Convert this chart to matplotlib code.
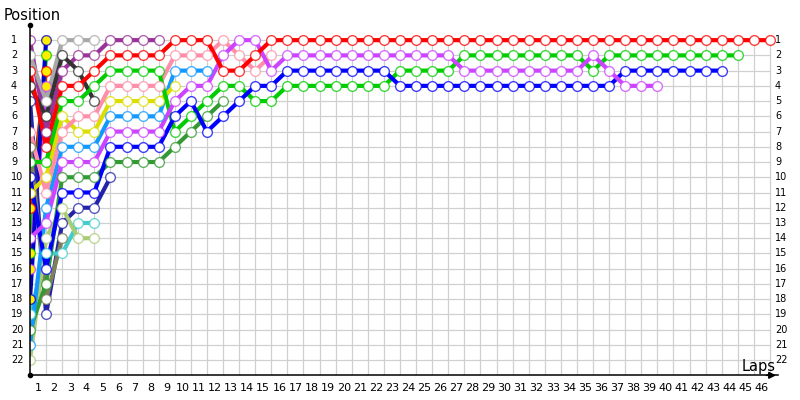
import matplotlib.pyplot as plt
from matplotlib.colors import to_rgba
from matplotlib.transforms import blended_transform_factory

# position of each driver at the end of every lap (index 0 = grid)
purple = [1, 7, 3, 2, 2, 1, 1, 1, 1]
gray = [2, 5, 1, 1, 1]
red = [3, 8, 4, 4, 3, 2, 2, 2, 2, 1, 1, 1, 3, 3, 2, 1, 1, 1, 1, 1, 1, 1, 1, 1,
       1, 1, 1, 1, 1, 1, 1, 1, 1, 1, 1, 1, 1, 1, 1, 1, 1, 1, 1, 1, 1, 1, 1]
dark = [4, 6, 2, 3, 5]
navy = [5, 19, 13, 12, 12, 10]
pink = [7, 11, 7, 6, 6, 4, 4, 4, 4, 2, 2, 2, 1, 2, 3, 2]
olive = [8, 18, 14]
green = [9, 9, 5, 5, 4, 3, 3, 3, 3, 7, 6, 5, 4, 4, 5, 5, 4, 4, 4, 4, 4, 4, 4,
         3, 3, 3, 3, 2, 2, 2, 2, 2, 2, 2, 2, 3, 2, 2, 2, 2, 2, 2, 2, 2, 2]
blue = [10, 16, 11, 11, 11, 8, 8, 8, 8, 6, 5, 7, 6, 5, 4, 4, 3, 3, 3, 3, 3, 3,
        3, 4, 4, 4, 4, 4, 4, 4, 4, 4, 4, 4, 4, 4, 4, 3, 3, 3, 3, 3, 3, 3]
yellow = [11, 10, 6, 7, 7, 5, 5, 5, 5, 4]
violet = [14, 13, 9, 9, 9, 7, 7, 7, 7, 5, 4, 4, 2, 1, 1, 3, 2, 2, 2, 2, 2, 2,
          2, 2, 2, 2, 2, 3, 3, 3, 3, 3, 3, 3, 3, 2, 3, 4, 4, 4]
cyan = [19, 15, 15, 13, 13]
dgreen = [20, 17, 10, 10, 10, 9, 9, 9, 9, 8, 7, 6, 5]
lblue = [21, 12, 8, 8, 8, 6, 6, 6, 6, 3, 3, 3]
lolive = [22, 14, 12, 14, 14]
# drivers out after the first lap (drawn with yellow markers)
out_red = [12, 3]
out_green = [15, 2]
out_violet = [16, 4]
out_blue = [18, 1]

n_laps = 46
n_pos = 22

drivers = [
    (purple, '#993399'), (gray, '#a8a8a8'), (dark, '#333333'),
    (navy, '#2222aa'), (olive, '#7f7f5a'), (cyan, '#44cccc'),
    (lolive, '#aacc77'), (dgreen, '#339933'), (lblue, '#1199ff'),
    (yellow, '#dddd00'), (pink, '#ff8fa8'), (green, '#00cc00'),
    (blue, '#0000ff'), (violet, '#cc44ff'), (red, '#ff0000'),
]
retired = [(out_red, '#ff0000'), (out_green, '#00cc00'),
           (out_violet, '#cc44ff'), (out_blue, '#0000cc')]

fig = plt.figure(figsize=(8, 4), dpi=100)
ax = fig.add_axes([30 / 800, 0.0617, 756.1 / 800, 0.876])
ax.set_xlim(0, 47)
ax.set_ylim(23, 0)
ax.axis('off')

# grid
for p in range(1, n_pos + 1):
    ax.plot([0, n_laps], [p, p], color='#d0d0d0', lw=0.9, zorder=1)
for lap in range(1, n_laps + 1):
    ax.plot([lap, lap], [1, 23], color='#d0d0d0', lw=0.9, zorder=1)

# axes lines
ax.plot([0, 0], [0, 23], color='black', lw=1.1, zorder=5, clip_on=False)
ax.plot([0, 46.5], [23, 23], color='black', lw=1.1, zorder=5, clip_on=False)
ax.plot([0], [0], 'o', color='black', ms=3, zorder=6, clip_on=False)
ax.plot([0], [23], 'o', color='black', ms=3, zorder=6, clip_on=False)
ax.annotate('', xy=(46.55, 23), xytext=(45.6, 23),
            arrowprops=dict(arrowstyle='-|>', color='black', lw=1.1,
                            mutation_scale=10), zorder=6)

all_lines = retired + drivers
for pos, col in all_lines:
    ax.plot(range(len(pos)), pos, color=col, lw=3, zorder=2,
            solid_capstyle='round', solid_joinstyle='round')
for pos, col in drivers:
    ax.plot(range(len(pos)), pos, 'o', mfc='white', mec=to_rgba(col, 0.75),
            ms=7, mew=1.0, zorder=3)
for pos, col in retired:
    ax.plot(range(len(pos)), pos, 'o', mfc='#ffee00', mec=to_rgba(col, 0.75),
            ms=7, mew=1.0, zorder=4)

# labels
trans = blended_transform_factory(fig.transFigure, ax.transData)
for p in range(1, n_pos + 1):
    ax.text(11 / 800, p, str(p), transform=trans, ha='left', va='center',
            fontsize=7)
    ax.text(775 / 800, p, str(p), transform=trans, ha='left', va='center',
            fontsize=7)
for lap in range(1, n_laps + 1):
    ax.text(lap - 0.5, 23.85, str(lap), ha='center', va='center',
            fontsize=8, clip_on=False)

fig.text(4 / 800, 1 - 16 / 400, 'Position', fontsize=10.5, ha='left',
         va='center')
fig.text(742 / 800, 1 - 366 / 400, 'Laps', fontsize=10.5, ha='left',
         va='center')

fig.savefig('out.png', dpi=100)
